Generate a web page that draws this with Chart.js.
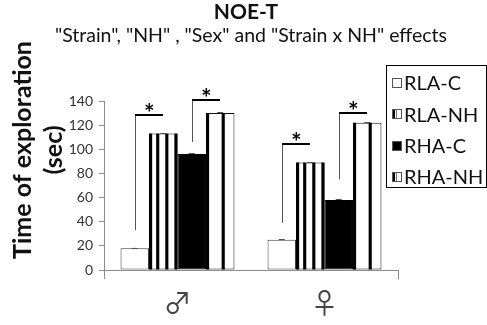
<!DOCTYPE html>
<html>
<head>
<meta charset="utf-8">
<script src="https://cdn.jsdelivr.net/npm/chart.js@4.4.0/dist/chart.umd.min.js"></script>
<style>
  html, body { margin: 0; padding: 0; background: #ffffff; }
  #wrap { width: 487px; height: 325px; position: relative; }
</style>
</head>
<body>
<div id="wrap"><canvas id="chart" width="487" height="325"></canvas></div>
<script>
// Groups (sex) and series (strain x condition)
const categories = ['\u2642', '\u2640'];
const seriesNames = ['RLA-C', 'RLA-NH', 'RHA-C', 'RHA-NH'];

// Mean time of exploration (sec) for male, female
const rlaC  = [18, 25];
const rlaNH = [113, 89];
const rhaC  = [96, 58];
const rhaNH = [130, 122];

// Standard errors
const rlaCErr  = [0.6, 0.6];
const rlaNHErr = [0.6, 0.6];
const rhaCErr  = [0.6, 0.6];
const rhaNHErr = [0.6, 0.6];

// Y axis ticks
const yTicks = [0, 20, 40, 60, 80, 100, 120, 140];

// Significance brackets: group, from series, to series, low end, high end (sec)
const bracketGroup = [0, 0, 1, 1];
const bracketFrom  = [0, 2, 0, 2];
const bracketTo    = [1, 3, 1, 3];
const bracketLow   = [33, 106, 39, 75];
const bracketHigh  = [128, 141, 104, 130];

const titleText = 'NOE-T';
const subtitleText = '"Strain", "NH" , "Sex" and "Strain x NH" effects';
const yTitleLines = ['Time of exploration', '(sec)'];

const FONT = 'Lato, "Open Sans", sans-serif';
const AXIS_GREY = '#8c8c8c';
const TEXT = '#111111';

// Vertical stripe layouts (fractions of bar width) for the NH series
const stripeSets = {
  'RLA-NH': [[0, 0.11], [0.25, 0.36], [0.57, 0.68], [0.89, 1]],
  'RHA-NH': [[0, 0.11], [0.55, 0.66]]
};

const errs = [rlaCErr, rlaNHErr, rhaCErr, rhaNHErr];

const datasets = [
  { label: seriesNames[0], data: rlaC,  backgroundColor: '#ffffff', borderColor: '#3a3a3a' },
  { label: seriesNames[1], data: rlaNH, backgroundColor: '#ffffff', borderColor: '#111111' },
  { label: seriesNames[2], data: rhaC,  backgroundColor: '#000000', borderColor: '#000000' },
  { label: seriesNames[3], data: rhaNH, backgroundColor: '#ffffff', borderColor: '#111111' }
].map(d => Object.assign(d, {
  borderWidth: 1,
  borderSkipped: false,
  barPercentage: 1.0,
  categoryPercentage: 0.775
}));

// Stripes, error caps and significance brackets
const overlayPlugin = {
  id: 'overlay',
  afterDatasetsDraw(chart) {
    const ctx = chart.ctx;
    const y = chart.scales.y;
    ctx.save();
    chart.data.datasets.forEach((ds, di) => {
      const meta = chart.getDatasetMeta(di);
      const stripes = stripeSets[ds.label];
      meta.data.forEach((bar, i) => {
        const left = bar.x - bar.width / 2;
        const top = bar.y;
        const h = bar.base - bar.y;
        if (stripes) {
          ctx.fillStyle = '#000000';
          stripes.forEach(([a, b]) => {
            ctx.fillRect(left + a * bar.width, top, (b - a) * bar.width, h);
          });
        }
        // error cap
        const e = errs[di][i];
        const v = ds.data[i];
        const yTop = y.getPixelForValue(v + e);
        ctx.strokeStyle = '#555555';
        ctx.lineWidth = 1;
        ctx.beginPath();
        ctx.moveTo(bar.x, y.getPixelForValue(v));
        ctx.lineTo(bar.x, yTop);
        ctx.moveTo(bar.x - 3, Math.round(yTop) + 0.5);
        ctx.lineTo(bar.x + 3, Math.round(yTop) + 0.5);
        ctx.stroke();
      });
    });

    // brackets
    bracketGroup.forEach((g, k) => {
      const b1 = chart.getDatasetMeta(bracketFrom[k]).data[g];
      const b2 = chart.getDatasetMeta(bracketTo[k]).data[g];
      const x1 = Math.round(b1.x) + 0.5;
      const x2 = Math.round(b2.x);
      const yLow = y.getPixelForValue(bracketLow[k]);
      const yHigh = Math.round(y.getPixelForValue(bracketHigh[k]));
      ctx.strokeStyle = '#555555';
      ctx.lineWidth = 1;
      ctx.beginPath();
      ctx.moveTo(x1, yLow);
      ctx.lineTo(x1, yHigh);
      ctx.stroke();
      ctx.strokeStyle = '#000000';
      ctx.lineWidth = 2;
      ctx.beginPath();
      ctx.moveTo(x1 - 0.5, yHigh);
      ctx.lineTo(x2, yHigh);
      ctx.stroke();
      ctx.fillStyle = '#000000';
      ctx.font = 'bold 25px ' + FONT;
      ctx.textAlign = 'center';
      ctx.textBaseline = 'alphabetic';
      ctx.fillText('*', (x1 + x2) / 2, yHigh + 7);
    });
    ctx.restore();
  },
  afterDraw(chart) {
    const ctx = chart.ctx;
    ctx.save();
    // titles
    ctx.fillStyle = TEXT;
    ctx.textAlign = 'center';
    ctx.textBaseline = 'middle';
    ctx.font = 'bold 21px ' + FONT;
    ctx.fillText(titleText, 246, 12);
    ctx.font = '19.5px ' + FONT;
    ctx.fillText(subtitleText, 251, 36);

    // y axis title
    ctx.font = 'bold 25px ' + FONT;
    ctx.translate(0, 150);
    ctx.rotate(-Math.PI / 2);
    ctx.fillText(yTitleLines[0], 0, 23);
    ctx.fillText(yTitleLines[1], 0, 54);
    ctx.setTransform(1, 0, 0, 1, 0, 0);

    // legend
    const bx = 386.5, by = 65.5, bw = 100, bh = 122;
    ctx.strokeStyle = '#000000';
    ctx.lineWidth = 1;
    ctx.strokeRect(bx, by, bw, bh);
    ctx.textAlign = 'left';
    ctx.font = '20px ' + FONT;
    chart.data.datasets.forEach((ds, i) => {
      const cy = 83 + i * 31.3;
      const sx = 392, sy = Math.round(cy - 5), s = 10;
      ctx.fillStyle = ds.backgroundColor;
      ctx.fillRect(sx, sy, s, s);
      if (stripeSets[ds.label]) {
        ctx.fillStyle = '#000000';
        ctx.fillRect(sx, sy, 3, s);
        ctx.fillStyle = '#777777';
        ctx.fillRect(sx + 4, sy, 1, s);
      }
      ctx.strokeStyle = '#555555';
      ctx.strokeRect(sx + 0.5, sy + 0.5, s - 1, s - 1);
      ctx.fillStyle = TEXT;
      ctx.fillText(ds.label, 404, cy + 1);
    });
    ctx.restore();
  }
};

new Chart(document.getElementById('chart'), {
  type: 'bar',
  data: { labels: categories, datasets },
  options: {
    responsive: false,
    animation: false,
    devicePixelRatio: 1,
    layout: { padding: { top: 101, right: 89, left: 0, bottom: 0 } },
    plugins: {
      legend: { display: false },
      title: { display: false },
      tooltip: { enabled: false }
    },
    scales: {
      y: {
        min: 0,
        max: 140,
        afterFit(scale) { scale.width = 104; },
        afterBuildTicks(scale) { scale.ticks = yTicks.map(v => ({ value: v })); },
        ticks: { color: '#333333', font: { size: 14, family: FONT }, padding: 6 },
        grid: { drawOnChartArea: false, tickLength: 5, color: AXIS_GREY },
        border: { color: AXIS_GREY }
      },
      x: {
        offset: true,
        afterFit(scale) { scale.height = 55; },
        ticks: { color: '#444444', font: { size: 28, family: '"Noto Sans CJK JP", "DejaVu Sans", sans-serif' }, padding: 8 },
        grid: {
          offset: true,
          drawOnChartArea: false,
          tickLength: 9,
          color: AXIS_GREY,
          tickColor: c => (c.index === 1 ? 'rgba(0,0,0,0)' : AXIS_GREY)
        },
        border: { color: AXIS_GREY }
      }
    }
  },
  plugins: [overlayPlugin]
});
</script>
</body>
</html>
